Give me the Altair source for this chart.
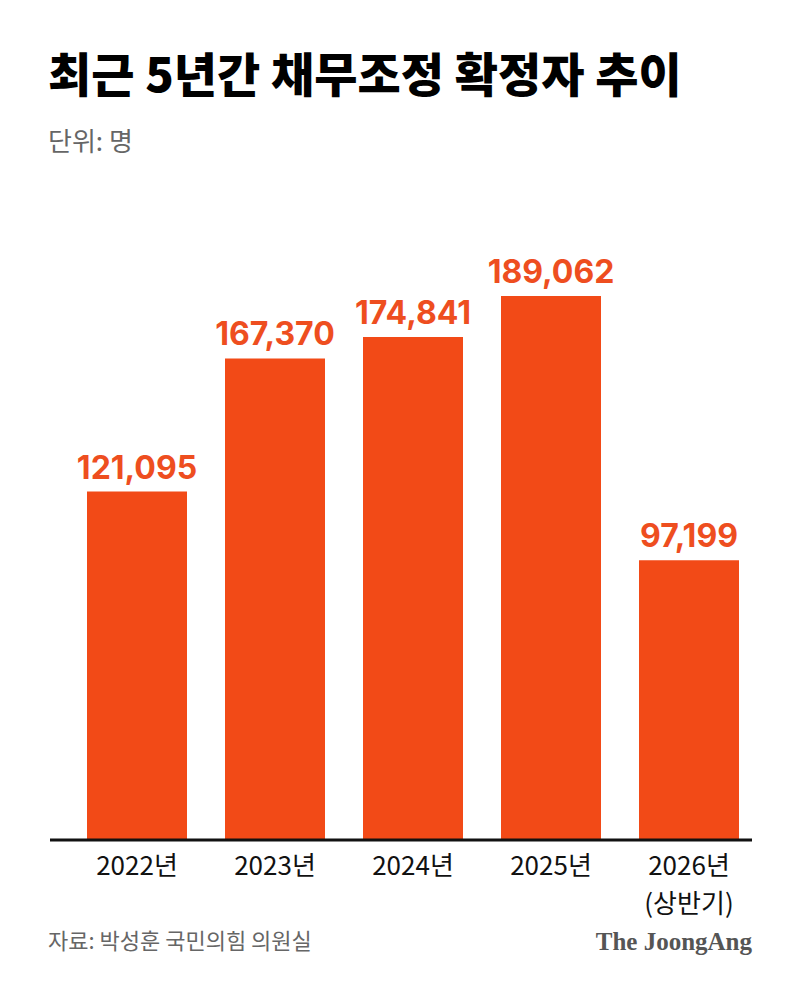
import altair as alt
import pandas as pd

title_text = "최근 5년간 채무조정 확정자 추이"
unit_text = "단위: 명"
source_text = "자료: 박성훈 국민의힘 의원실"
brand_text = "The JoongAng"

years = ["2022", "2023", "2024", "2025", "2026"]
year_labels = ["2022년", "2023년", "2024년", "2025년", "2026년"]
sub_labels = ["", "", "", "", "(상반기)"]
values = [121095, 167370, 174841, 189062, 97199]

W = 690
H = 575.5
BAR = "#F24A17"
KFONT = "Noto Sans CJK KR"

df = pd.DataFrame({"year": years, "label": year_labels, "sub": sub_labels, "value": values})

x = alt.X("year:N", sort=years, axis=None,
          scale=alt.Scale(paddingInner=0.2754, paddingOuter=0.1377))
y = alt.Y("value:Q", axis=None, scale=alt.Scale(domain=[0, 200000], nice=False))

bars = alt.Chart(df).mark_bar(color=BAR).encode(x=x, y=y)

vals = alt.Chart(df).mark_text(
    font="Inter", fontWeight="bold", fontSize=32, color="#EE4E1F",
    baseline="alphabetic", dy=-13
).encode(x=x, y=y, text=alt.Text("value:Q", format=","))

cats = alt.Chart(df).mark_text(
    font=KFONT, fontSize=26, color="#111111", baseline="middle"
).encode(x=x, y=alt.value(H + 27), text="label:N")

subs = alt.Chart(df).mark_text(
    font=KFONT, fontSize=26, color="#111111", baseline="middle"
).encode(x=x, y=alt.value(H + 65), text="sub:N")

base_line = alt.Chart(pd.DataFrame({"v": [0]})).mark_rule(
    color="#111111", strokeWidth=3
).encode(x=alt.value(-18), x2=alt.value(684), y=alt.value(H))

title = alt.Chart(pd.DataFrame({"t": [title_text]})).mark_text(
    font=KFONT, fontWeight=900, fontSize=47, color="#000000",
    align="left", baseline="middle"
).encode(x=alt.value(-20), y=alt.value(-187), text="t:N")

unit = alt.Chart(pd.DataFrame({"t": [unit_text]})).mark_text(
    font=KFONT, fontSize=26, color="#666666",
    align="left", baseline="middle"
).encode(x=alt.value(-20), y=alt.value(-122), text="t:N")

source = alt.Chart(pd.DataFrame({"t": [source_text]})).mark_text(
    font=KFONT, fontSize=22, color="#666666",
    align="left", baseline="middle"
).encode(x=alt.value(-20), y=alt.value(H + 102), text="t:N")

brand = alt.Chart(pd.DataFrame({"t": [brand_text]})).mark_text(
    font="Liberation Serif", fontWeight="bold", fontSize=25, color="#555555",
    align="right", baseline="middle"
).encode(x=alt.value(684), y=alt.value(H + 102), text="t:N")

chart = alt.layer(bars, vals, cats, subs, base_line, title, unit, source, brand).properties(
    width=W, height=H,
    background="white",
    autosize=alt.AutoSizeParams(type="none"),
    padding={"left": 60, "top": 256.5, "right": 34, "bottom": 145},
).configure_view(strokeWidth=0, stroke="transparent")

chart.save("out.html", embed_options={"renderer": "svg", "actions": False})
